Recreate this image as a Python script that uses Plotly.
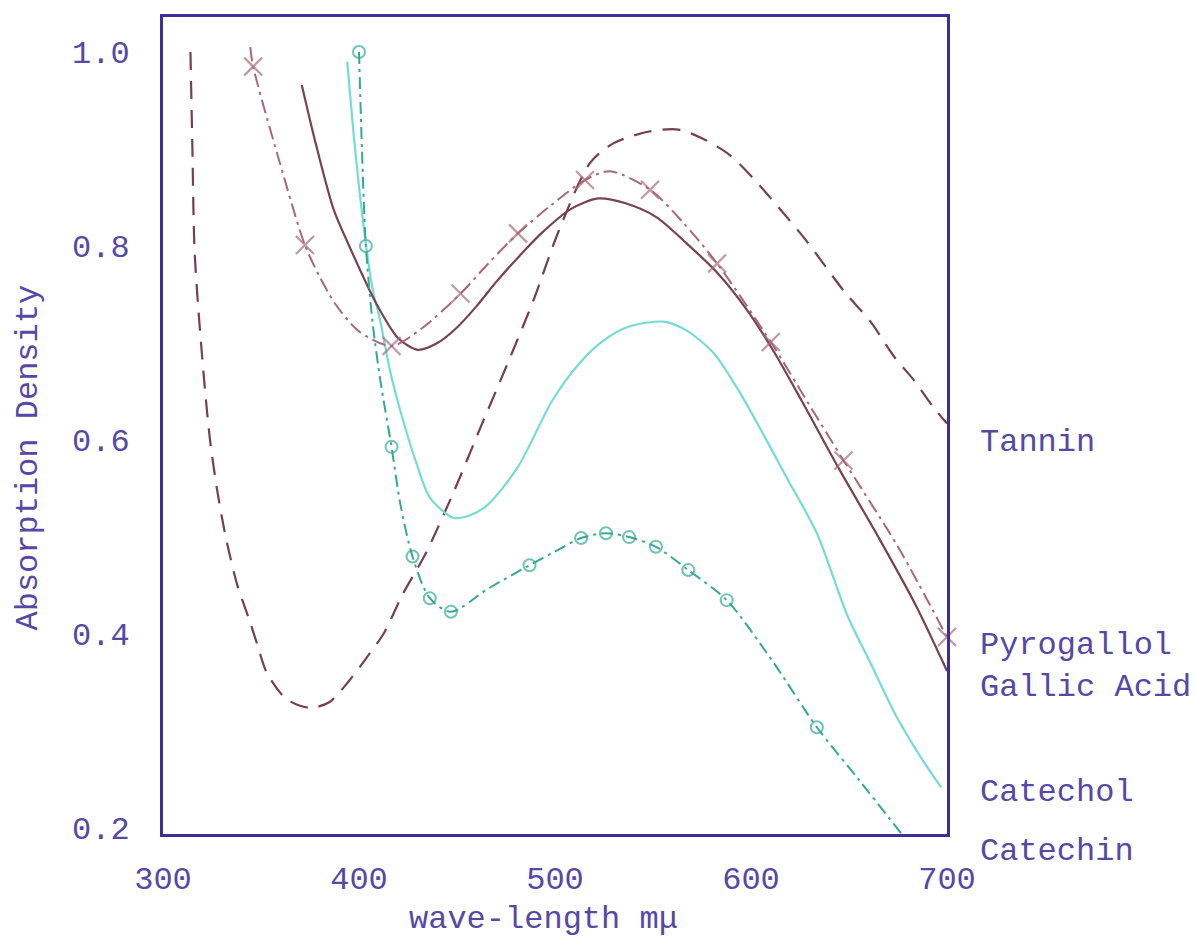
import plotly.graph_objects as go

# Absorption spectra (absorption density vs wave-length in m\u03bc)
tannin_nm = [314, 315, 316, 317.5, 319.4, 321.5, 324, 327.5, 332, 338, 344, 348, 353, 363, 375, 385, 395,
             404, 413, 422, 434, 448, 462, 475, 489, 502, 518, 530, 548, 563, 575, 589, 601, 614, 628,
             648, 661, 673, 683, 693, 700]
tannin_ad = [1.00, 0.90, 0.80, 0.75, 0.70, 0.65, 0.60, 0.55, 0.50, 0.45, 0.415, 0.39, 0.36, 0.333, 0.324,
             0.330, 0.352, 0.376, 0.402, 0.440, 0.483, 0.545, 0.613, 0.675, 0.744, 0.816, 0.886, 0.906,
             0.918, 0.920, 0.911, 0.894, 0.870, 0.840, 0.806, 0.752, 0.722, 0.686, 0.662, 0.634, 0.617]

pyro_nm = [344.5, 346, 359, 372.4, 380, 388, 400, 416.6, 432, 451.8, 466, 481.1, 498, 515.3, 528,
           548.5, 565, 582.7, 610.1, 628, 647.2, 675, 700]
pyro_ad = [1.005, 0.985, 0.89, 0.801, 0.768, 0.740, 0.712, 0.697, 0.715, 0.751, 0.782, 0.813, 0.842,
           0.868, 0.877, 0.858, 0.825, 0.782, 0.701, 0.642, 0.579, 0.49, 0.397]
pyro_marked = [0, 1, 0, 1, 0, 0, 0, 1, 0, 1, 0, 1, 0, 1, 0, 1, 0, 1, 1, 0, 1, 0, 1]

gallic_nm = [370.8, 378, 387, 395, 409, 420, 430, 440, 450, 460, 470, 482, 493, 508, 522, 536, 551.5,
             567, 583, 598, 612, 626, 645, 665, 684, 700]
gallic_ad = [0.966, 0.905, 0.838, 0.800, 0.740, 0.705, 0.693, 0.700, 0.716, 0.738, 0.763, 0.790, 0.813,
             0.838, 0.849, 0.844, 0.830, 0.803, 0.772, 0.734, 0.690, 0.640, 0.570, 0.500, 0.430, 0.362]

catechol_nm = [394, 398, 403, 407, 410.7, 416, 422.4, 429, 436.1, 447.9, 456, 465.5, 481, 498.7, 512.4,
               525, 537.8, 555.4, 567, 580.8, 592.5, 606, 618, 633.6, 649, 661, 674.5, 686, 697]
catechol_ad = [0.99, 0.90, 0.81, 0.755, 0.724, 0.67, 0.621, 0.578, 0.541, 0.520, 0.522, 0.533, 0.572,
               0.641, 0.679, 0.703, 0.717, 0.722, 0.713, 0.690, 0.655, 0.607, 0.562, 0.504, 0.42, 0.37,
               0.314, 0.275, 0.242]

catechin_nm = [400, 401.5, 403.5, 407, 411, 416.6, 421, 427.3, 436.1, 446.9, 466, 487, 500, 513.3, 526,
               537.8, 551.5, 568, 587.6, 610, 633.6, 655, 676.5]
catechin_ad = [1.0, 0.90, 0.80, 0.72, 0.66, 0.593, 0.535, 0.48, 0.437, 0.423, 0.447, 0.471, 0.485,
               0.499, 0.504, 0.50, 0.49, 0.466, 0.435, 0.375, 0.304, 0.25, 0.195]
catechin_marked = [1, 0, 1, 0, 0, 1, 0, 1, 1, 1, 0, 1, 0, 1, 1, 1, 1, 1, 1, 0, 1, 0, 0]

x_ticks = [300, 400, 500, 600, 700]
y_ticks = [0.2, 0.4, 0.6, 0.8, 1.0]
y_tick_text = ["0.2", "0.4", "0.6", "0.8", "1.0"]

series_names = ["Tannin", "Pyrogallol", "Gallic Acid", "Catechol", "Catechin"]

INK = "#5548a6"
FRAME = "#3c2e9e"
TYPE = "Liberation Mono, Courier New, monospace"
FS = 32

fig = go.Figure()

fig.add_trace(go.Scatter(
    x=tannin_nm, y=tannin_ad, mode="lines", name=series_names[0],
    line=dict(color="#74404e", width=2.2, dash="18px,11px", shape="spline", smoothing=0.8),
))

fig.add_trace(go.Scatter(
    x=catechol_nm, y=catechol_ad, mode="lines", name=series_names[3],
    line=dict(color="#74dcd2", width=2.2, shape="spline", smoothing=0.8),
))

fig.add_trace(go.Scatter(
    x=gallic_nm, y=gallic_ad, mode="lines", name=series_names[2],
    line=dict(color="#784350", width=2.2, shape="spline", smoothing=0.8),
))

fig.add_trace(go.Scatter(
    x=pyro_nm, y=pyro_ad, mode="lines+markers", name=series_names[1], cliponaxis=False,
    line=dict(color="#a8687a", width=2, dash="14px,5px,3px,5px", shape="spline", smoothing=0.8),
    marker=dict(symbol="x-thin-open", size=[18 * m for m in pyro_marked],
                line=dict(color="#6e4250", width=2.2)),
))

fig.add_trace(go.Scatter(
    x=catechin_nm, y=catechin_ad, mode="lines+markers", name=series_names[4], cliponaxis=False,
    line=dict(color="#35a894", width=2, dash="12px,5px,3px,5px", shape="spline", smoothing=0.8),
    marker=dict(symbol="circle-open", size=[12 * m for m in catechin_marked],
                line=dict(color="#2a9a86", width=2)),
))

axis_common = dict(
    showline=True, mirror=True, linecolor=FRAME, linewidth=3,
    showgrid=False, zeroline=False, ticks="",
    tickfont=dict(family=TYPE, size=FS, color=INK),
)

fig.update_xaxes(range=[300, 700], tickvals=x_ticks, ticktext=[str(v) for v in x_ticks],
                 ticklabelstandoff=14, **axis_common)
fig.update_yaxes(range=[0.194, 1.036], tickvals=y_ticks, ticktext=y_tick_text,
                 ticklabelstandoff=24, **axis_common)

annotations = [
    dict(text="Absorption Density", x=-0.172, y=0.461, xref="paper", yref="paper",
         xanchor="center", yanchor="middle", textangle=-90, showarrow=False,
         font=dict(family=TYPE, size=FS, color=INK)),
    dict(text="wave-length m\u03bc", x=0.485, y=-0.105, xref="paper", yref="paper",
         xanchor="center", yanchor="middle", showarrow=False,
         font=dict(family=TYPE, size=FS, color=INK)),
]
label_y = [0.479, 0.231, 0.179, 0.051, -0.021]
for name, yv in zip(series_names, label_y):
    annotations.append(dict(text=name, x=1.0395, y=yv, xref="paper", yref="paper",
                            xanchor="left", yanchor="middle", showarrow=False,
                            font=dict(family=TYPE, size=FS, color=INK)))

fig.update_layout(
    width=1196, height=945,
    margin=dict(l=163, r=249, t=17, b=111),
    paper_bgcolor="white", plot_bgcolor="white",
    showlegend=False,
    annotations=annotations,
)

fig.write_html("out.html")
